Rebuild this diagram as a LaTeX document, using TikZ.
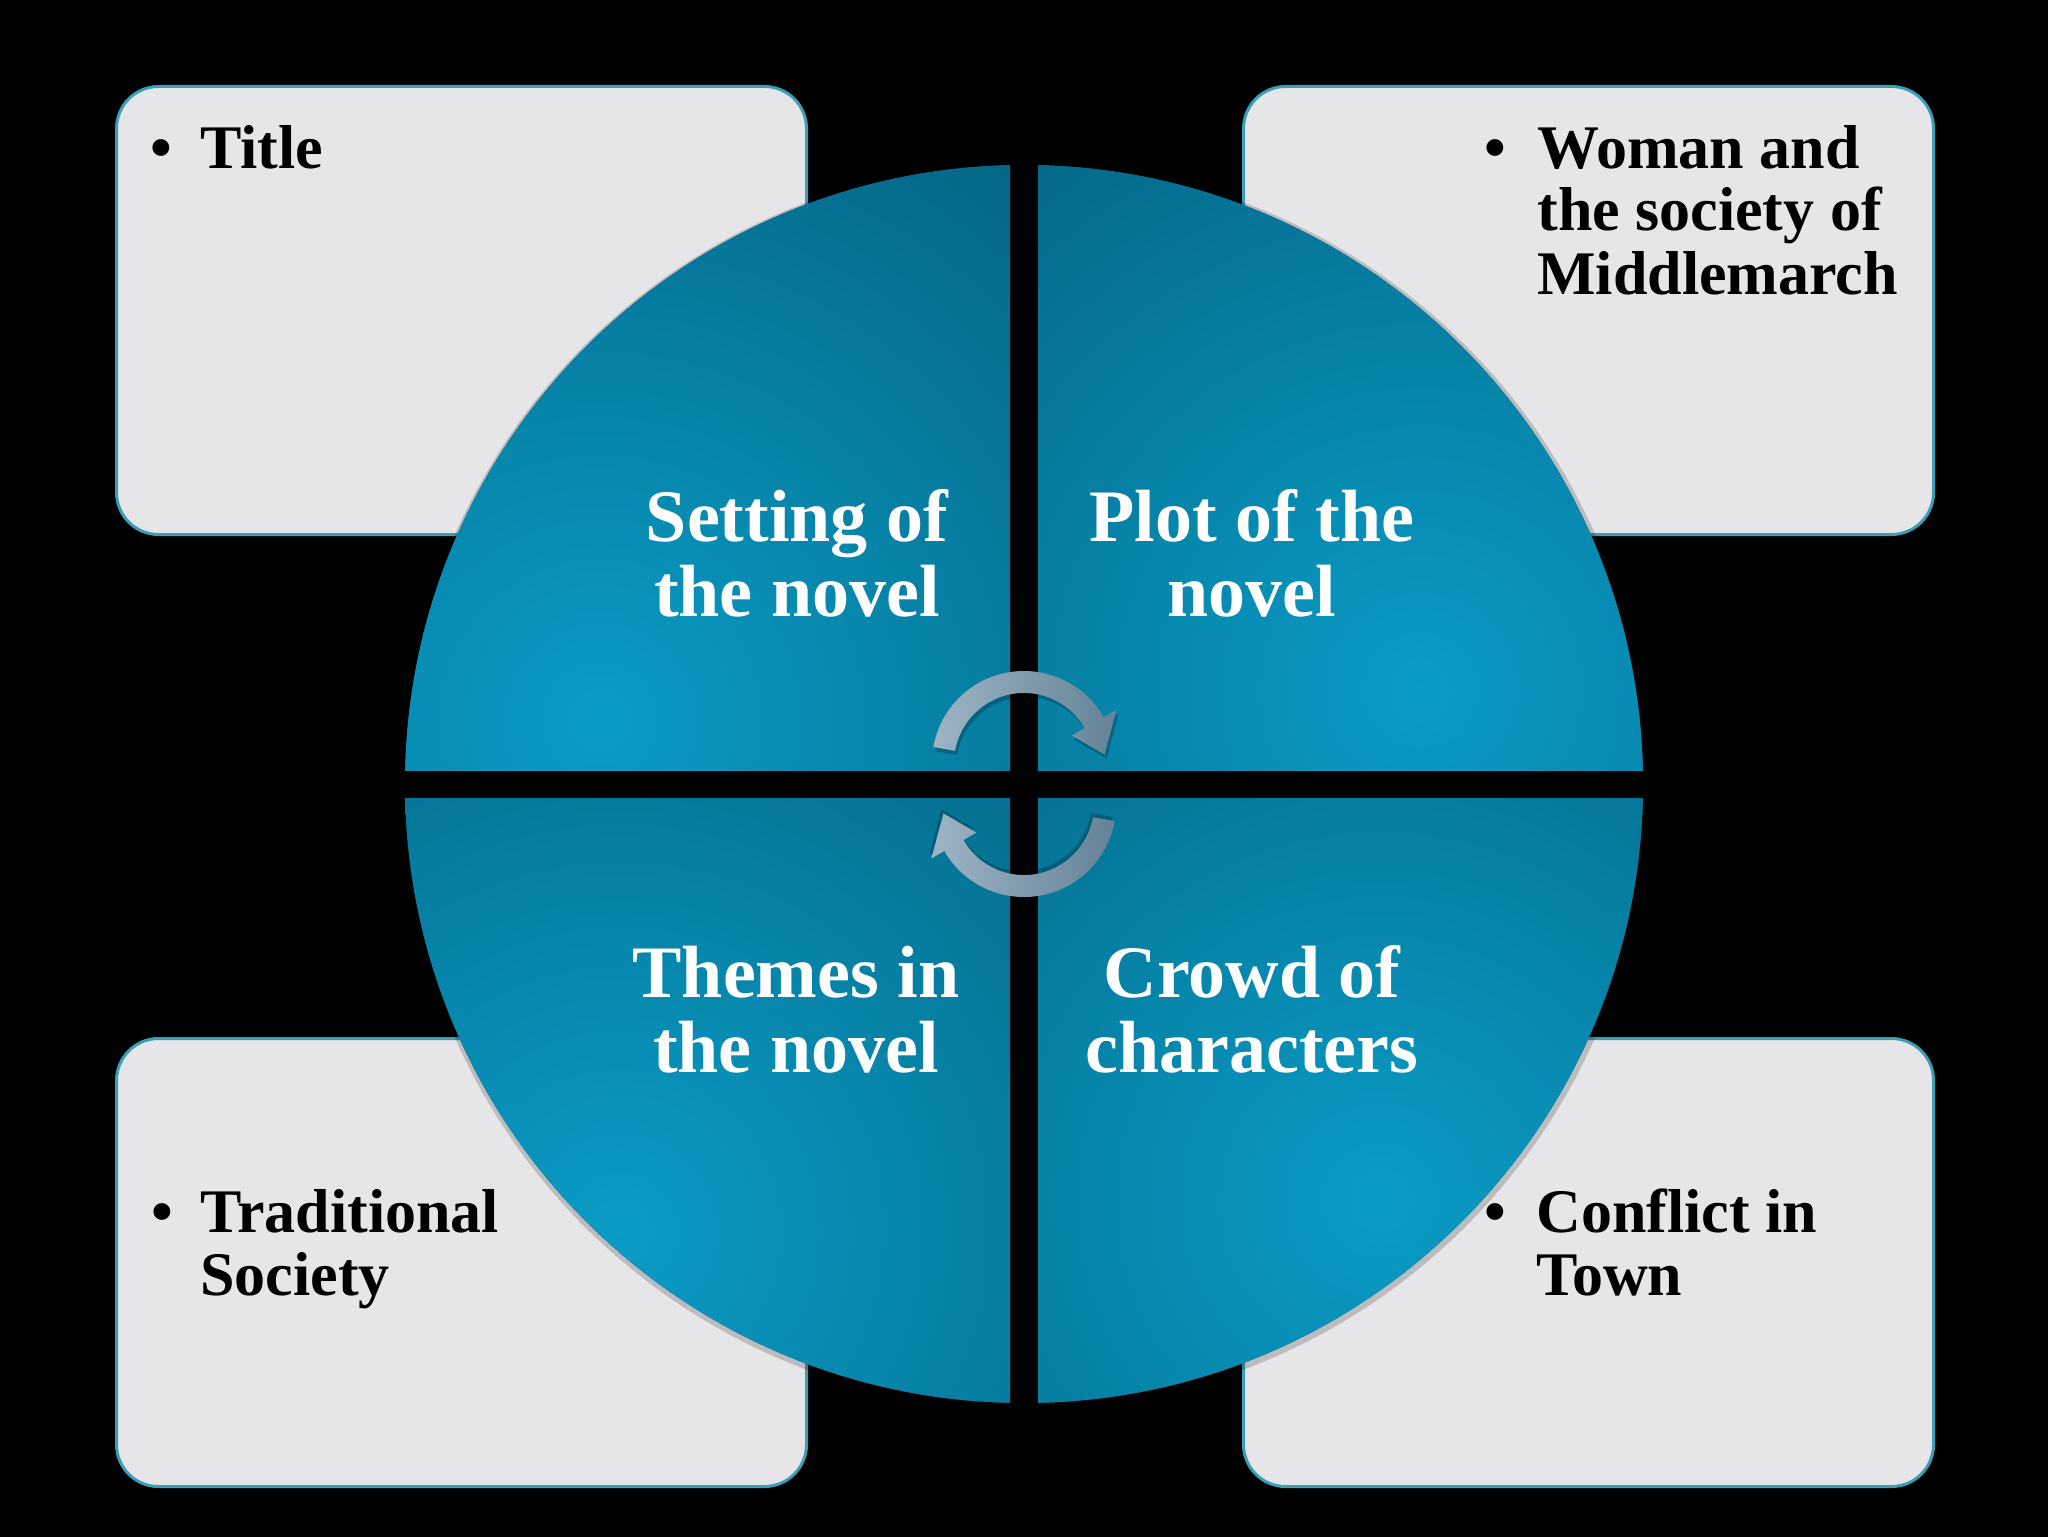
\documentclass[tikz,border=0pt]{standalone}
\usepackage{fontspec}
\setmainfont{Liberation Serif}
\usetikzlibrary{calc}
\definecolor{boxfill}{RGB}{230,230,232}
\definecolor{boxedge}{RGB}{58,158,182}
\definecolor{qbright}{RGB}{10,156,198}
\definecolor{qdark}{RGB}{3,94,124}
\definecolor{arrlight}{RGB}{158,180,196}
\definecolor{arrdark}{RGB}{100,130,150}
\begin{document}
\begin{tikzpicture}[x=0.5pt,y=-0.5pt,
  infobox/.style={draw=boxedge, line width=1.5pt, fill=boxfill, rounded corners=21pt,
    minimum width=345pt, minimum height=224pt, anchor=north west, inner sep=0pt},
  bultxt/.style={font=\fontsize{31}{31.5}\selectfont\bfseries, text=black, inner sep=0pt},
  qtxt/.style={font=\fontsize{37}{37.5}\selectfont\bfseries, text=white, inner sep=0pt, anchor=base},
  cycarrow/.pic={
    \fill[black, opacity=0.22] ($(190:92)+(2,4)$) arc[start angle=190,end angle=330,radius=92]
      -- ($(330:107)+(2,4)$) -- ($(354:81)+(2,4)$) -- ($(330:55)+(2,4)$) -- ($(330:70)+(2,4)$)
      arc[start angle=330,end angle=190,radius=70] -- cycle;
    \shade[left color=arrlight, right color=arrdark]
      (190:92) arc[start angle=190,end angle=330,radius=92]
      -- (330:107) -- (354:81) -- (330:55) -- (330:70)
      arc[start angle=330,end angle=190,radius=70] -- cycle;
  }]
\useasboundingbox (0,0) rectangle (2048,1536);
\fill[black] (-20,-20) rectangle (2068,1556);

% boxes
\node[infobox] (boxTL) at (115,85) {};
\node[infobox] (boxTR) at (1242,85) {};
\node[infobox] (boxBL) at (115,1037) {};
\node[infobox] (boxBR) at (1242,1037) {};

% circle shadow
\fill[black, opacity=0.18] (1025,786) circle (623);

% quadrants
\foreach \xa/\ya/\xb/\yb/\fx/\fy in {
  380/150/1010/770/600/720,
  1038/150/1670/770/1420/690,
  380/798/1010/1420/620/1230,
  1038/798/1670/1420/1380/1200}{
  \begin{scope}
    \clip (1024,784) circle (619);
    \clip (\xa,\ya) rectangle (\xb,\yb);
    \fill[qdark] (\xa,\ya) rectangle (\xb,\yb);
    \shade[inner color=qbright, outer color=qdark] (\fx,\fy) circle (800);
  \end{scope}
}

% cycle arrows
\pic at (1024,763) {cycarrow};
\pic[rotate=180] at (1024,805) {cycarrow};

% quadrant labels
\node[qtxt] (qTL) at (797,541) {\begin{tabular}[t]{@{}c@{}}Setting of\\the novel\end{tabular}};
\node[qtxt] (qTR) at (1252,541) {\begin{tabular}[t]{@{}c@{}}Plot of the\\novel\end{tabular}};
\node[qtxt] (qBL) at (796,997) {\begin{tabular}[t]{@{}c@{}}Themes in\\the novel\end{tabular}};
\node[qtxt] (qBR) at (1252,997) {\begin{tabular}[t]{@{}c@{}}Crowd of\\characters\end{tabular}};

% box texts
\node[bultxt, anchor=base] (bTL) at (161,168) {•};
\node[bultxt, anchor=base west] (tTL) at (200,168) {Title};
\node[bultxt, anchor=base] (bTR) at (1495,168) {•};
\node[bultxt, anchor=base west] (tTR) at (1537,168) {\begin{tabular}[t]{@{}l@{}}Woman and\\the society of\\Middlemarch\end{tabular}};
\node[bultxt, anchor=base] (bBL) at (162,1232) {•};
\node[bultxt, anchor=base west] (tBL) at (200,1232) {\begin{tabular}[t]{@{}l@{}}Traditional\\Society\end{tabular}};
\node[bultxt, anchor=base] (bBR) at (1495,1232) {•};
\node[bultxt, anchor=base west] (tBR) at (1536,1232) {\begin{tabular}[t]{@{}l@{}}Conflict in\\Town\end{tabular}};
\end{tikzpicture}
\end{document}
